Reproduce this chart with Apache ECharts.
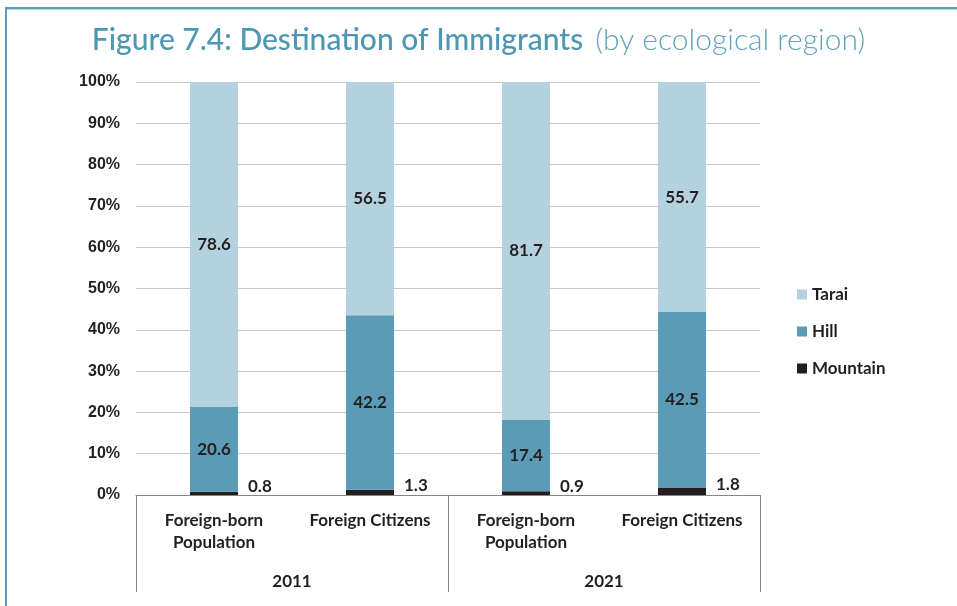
<!DOCTYPE html>
<html>
<head>
<meta charset="utf-8">
<script src="https://cdn.jsdelivr.net/npm/echarts@6/dist/echarts.min.js"></script>
<style>html,body{margin:0;padding:0;background:#fff;}#c{width:957px;height:606px;}</style>
</head>
<body>
<div id="c"></div>
<script>
const categories = ['Foreign-born\nPopulation', 'Foreign Citizens', 'Foreign-born\nPopulation', 'Foreign Citizens'];
const years = ['2011', '2021'];
const tarai = [78.6, 56.5, 81.7, 55.7];
const hill = [20.6, 42.2, 17.4, 42.5];
const mountain = [0.8, 1.3, 0.9, 1.8];
const yTicks = [0, 10, 20, 30, 40, 50, 60, 70, 80, 90, 100];

const chart = echarts.init(document.getElementById('c'));
const dark = '#231f20';
const labelFont = 'Lato, "Open Sans", sans-serif';
const valueLabel = {
  show: true, position: 'inside', color: dark, fontWeight: 'bold', fontSize: 17, fontFamily: labelFont,
  formatter: p => p.value.toFixed(1)
};
chart.setOption({
  animation: false,
  backgroundColor: '#fff',
  title: {
    text: '{a|Figure 7.4: Destination of Immigrants}{b|(by ecological region)}',
    left: 'center', top: 20,
    textStyle: {
      rich: {
        a: { fontFamily: 'Lato, sans-serif', fontSize: 30, color: '#4e97b3', fontWeight: 500 },
        b: { fontFamily: 'Lato, sans-serif', fontSize: 30, color: '#5fa3bd', fontWeight: 300, padding: [0, 0, 0, 12] }
      }
    }
  },
  graphic: [
    { type: 'rect', shape: { x: 5, y: 7, width: 952, height: 2 }, style: { fill: '#5a9fb9' }, silent: true },
    { type: 'rect', shape: { x: 5, y: 9, width: 952, height: 1 }, style: { fill: '#b9dbe8' }, silent: true },
    { type: 'rect', shape: { x: 5, y: 7, width: 2, height: 599 }, style: { fill: '#5a9fb9' }, silent: true }
  ],
  legend: {
    data: ['Tarai', 'Hill', 'Mountain'],
    orient: 'vertical', left: 792, top: 281, itemGap: 20,
    itemWidth: 10, itemHeight: 10, icon: 'rect',
    textStyle: { fontFamily: labelFont, fontWeight: 'bold', fontSize: 17, color: dark }
  },
  grid: { left: 136, right: 197, top: 82, bottom: 111, containLabel: false },
  xAxis: [
    {
      type: 'category', data: categories, position: 'bottom',
      axisLine: { show: true, lineStyle: { color: '#868686', width: 1 } },
      axisTick: { show: false },
      axisLabel: { interval: 0, margin: 15, lineHeight: 22, fontFamily: labelFont, fontWeight: 'bold', fontSize: 17, color: dark }
    },
    {
      type: 'category', data: years, position: 'bottom', offset: 0,
      axisLine: { show: false },
      axisTick: { show: true, length: 97, interval: 0, lineStyle: { color: '#868686', width: 1 } },
      axisLabel: { interval: 0, margin: 78, fontFamily: labelFont, fontWeight: 'bold', fontSize: 17, color: dark }
    }
  ],
  yAxis: {
    type: 'value', min: yTicks[0], max: yTicks[yTicks.length - 1], interval: 10,
    axisLine: { show: false }, axisTick: { show: false },
    splitLine: { lineStyle: { color: '#c8c8c8', width: 1 } },
    axisLabel: { formatter: '{value}%', margin: 16, fontFamily: '"Liberation Sans", Arial, sans-serif', fontWeight: 'bold', fontSize: 16, color: dark }
  },
  series: [
    { name: 'Mountain', type: 'bar', stack: 's', data: mountain, barWidth: 48, itemStyle: { color: dark },
      label: Object.assign({}, valueLabel, { position: 'right', distance: 10, offset: [0, -7] }) },
    { name: 'Hill', type: 'bar', stack: 's', data: hill, barWidth: 48, itemStyle: { color: '#5b9bb6' }, label: valueLabel },
    { name: 'Tarai', type: 'bar', stack: 's', data: tarai, barWidth: 48, itemStyle: { color: '#b4d1df' }, label: valueLabel }
  ]
});
</script>
</body>
</html>
